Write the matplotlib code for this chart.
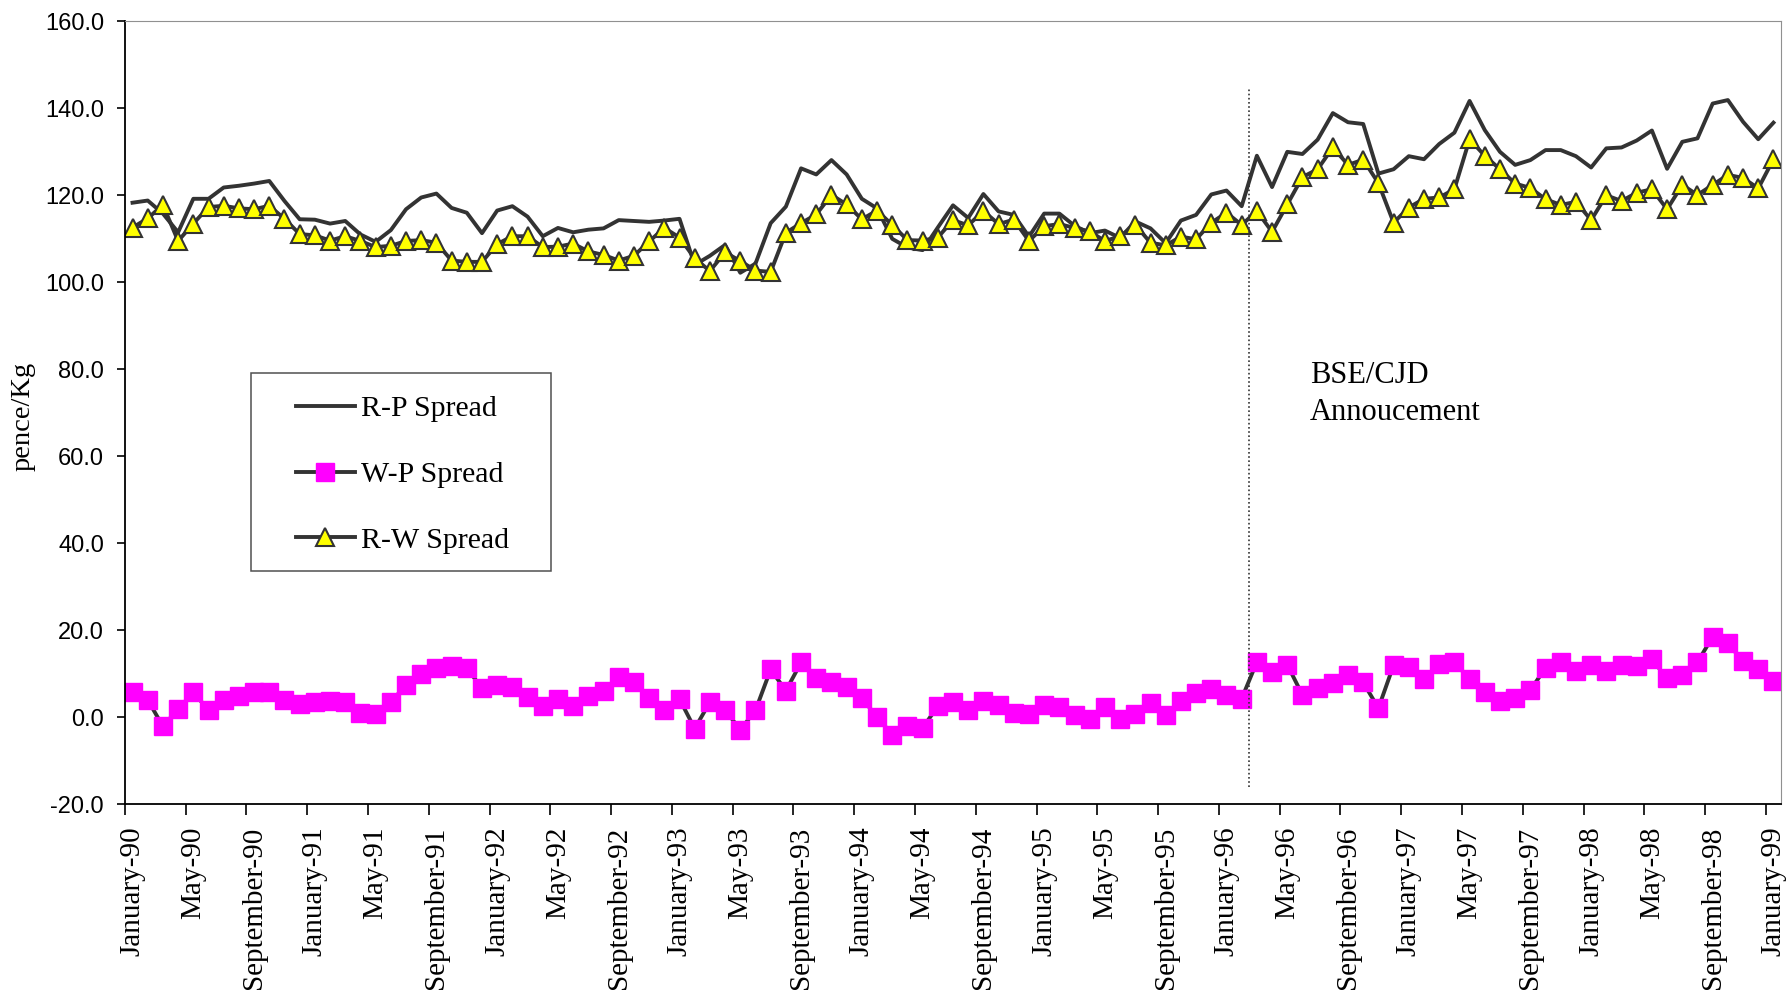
import matplotlib.pyplot as plt
import numpy as np
from matplotlib.ticker import FormatStrFormatter
from matplotlib.patches import Rectangle

# monthly spreads, pence/Kg, January 1990 - January 1999
rp_spread = [118.3, 118.8, 115.8, 111.5, 119.2, 119.2, 121.8, 122.2, 122.7, 123.3,
             118.7, 114.5, 114.4, 113.5, 114.1, 111.0, 109.3, 112.0, 116.8, 119.5,
             120.4, 117.1, 116.0, 111.3, 116.5, 117.5, 115.1, 110.6, 112.5, 111.5,
             112.1, 112.4, 114.3, 114.1, 113.9, 114.2, 114.6, 104.0, 106.1, 108.6,
             102.2, 104.3, 113.6, 117.4, 126.2, 124.8, 128.1, 124.8, 119.2, 117.0,
             110.0, 108.0, 107.4, 112.6, 117.7, 114.8, 120.3, 116.3, 115.5, 110.5,
             115.8, 115.8, 113.0, 111.3, 111.9, 110.2, 114.0, 112.4, 109.0, 114.2,
             115.5, 120.2, 121.1, 117.5, 129.1, 121.9, 130.0, 129.5, 132.8, 138.9,
             136.8, 136.4, 125.0, 126.0, 129.0, 128.3, 131.8, 134.4, 141.7, 135.0,
             130.0, 127.0, 128.1, 130.4, 130.4, 129.0, 126.4, 130.8, 131.0, 132.6,
             134.9, 126.1, 132.3, 133.1, 141.1, 141.9, 136.9, 132.9, 136.7]

wp_spread = [5.7, 4.0, -2.1, 1.9, 5.7, 1.7, 4.0, 5.0, 5.9, 5.7,
             4.0, 3.1, 3.4, 3.7, 3.4, 1.0, 0.8, 3.5, 7.4, 10.0,
             11.3, 11.9, 11.3, 6.7, 7.5, 6.9, 4.7, 2.5, 4.3, 2.6,
             5.0, 6.1, 9.3, 8.0, 4.5, 1.7, 4.2, -2.6, 3.5, 1.7,
             -2.9, 1.6, 11.0, 6.1, 12.6, 9.0, 8.0, 6.9, 4.4, 0.1,
             -4.0, -2.1, -2.4, 2.5, 3.4, 1.6, 3.8, 2.9, 1.1, 0.7,
             2.9, 2.4, 0.5, -0.5, 2.4, -0.4, 0.8, 3.3, 0.5, 3.7,
             5.6, 6.5, 5.1, 4.3, 12.7, 10.3, 12.1, 5.1, 6.7, 7.9,
             9.7, 8.0, 2.1, 12.0, 11.6, 8.8, 12.3, 12.7, 8.8, 5.7,
             3.8, 4.4, 6.3, 11.3, 12.6, 10.6, 12.0, 10.7, 12.0, 11.7,
             13.3, 9.0, 9.7, 12.7, 18.5, 17.0, 12.9, 11.1, 8.3]

rw_spread = [112.6, 114.7, 117.8, 109.5, 113.5, 117.3, 117.6, 117.0, 116.8, 117.6,
             114.6, 111.1, 110.8, 109.6, 110.6, 109.5, 108.1, 108.4, 109.5, 109.7,
             109.1, 105.0, 104.7, 104.7, 108.8, 110.6, 110.6, 108.1, 108.2, 108.9,
             107.1, 106.3, 105.0, 106.1, 109.4, 112.5, 110.3, 105.5, 102.6, 106.9,
             104.9, 102.7, 102.4, 111.4, 113.6, 115.6, 120.1, 117.9, 114.5, 116.5,
             113.2, 109.7, 109.6, 110.3, 114.3, 113.1, 116.4, 113.4, 114.4, 109.5,
             112.9, 113.4, 112.5, 111.7, 109.5, 110.6, 113.2, 109.1, 108.5, 110.5,
             109.9, 113.7, 116.0, 113.2, 116.4, 111.6, 117.9, 124.2, 126.0, 131.0,
             127.0, 128.2, 122.8, 113.7, 117.2, 119.2, 119.5, 121.4, 132.9, 129.1,
             126.0, 122.7, 121.7, 119.1, 117.8, 118.5, 114.3, 120.0, 118.7, 120.6,
             121.4, 116.8, 122.4, 120.1, 122.4, 124.7, 124.0, 121.6, 128.3]

tick_labels = ['January-90', 'May-90', 'September-90', 'January-91', 'May-91', 'September-91',
               'January-92', 'May-92', 'September-92', 'January-93', 'May-93', 'September-93',
               'January-94', 'May-94', 'September-94', 'January-95', 'May-95', 'September-95',
               'January-96', 'May-96', 'September-96', 'January-97', 'May-97', 'September-97',
               'January-98', 'May-98', 'September-98', 'January-99']

announce_month = 74  # March 1996
serif = 'Liberation Serif'
sans = 'Liberation Sans'

x = np.arange(len(rp_spread))

fig = plt.figure(figsize=(17.9, 9.97), dpi=100)
ax = fig.add_axes([0.0698, 0.1933, 0.9252, 0.7853])

ax.plot(x, rp_spread, color='#333333', lw=2.8, label='R-P Spread')
ax.plot(x, wp_spread, color='#333333', lw=2.8, marker='s', ms=13.5,
        mfc='#ff00ff', mec='#ff00ff', label='W-P Spread')
ax.plot(x, rw_spread, color='#333333', lw=2.8, marker='^', ms=13,
        mfc='#ffff00', mec='#333333', mew=1.5, label='R-W Spread')

ax.plot([announce_month - 0.5] * 2, [-16, 145], color='#333333', lw=1.2,
        ls=(0, (1, 1.5)))
ax.text(77.5, 81.8, 'BSE/CJD\nAnnoucement', family=serif, fontsize=22,
        va='top', ha='left', linespacing=1.33)

ax.set_xlim(-0.5, len(x) - 0.5)
ax.set_ylim(-20, 160)
ax.set_yticks(np.arange(-20, 161, 20))
ax.yaxis.set_major_formatter(FormatStrFormatter('%.1f'))
ax.set_xticks(np.arange(0, len(x), 4))
ax.set_xticklabels(tick_labels, rotation=90, family=serif, fontsize=21, va='top')
ax.set_xticks(np.arange(-0.5, len(x), 4), minor=True)
ax.tick_params(axis='x', which='major', length=0, pad=16)
ax.tick_params(axis='x', which='minor', length=8, width=1.2, direction='out')
ax.tick_params(axis='y', length=6, width=1.2, pad=9, labelsize=17)
for lab in ax.get_yticklabels():
    lab.set_family(sans)

ax.set_ylabel('pence/Kg', family=serif, fontsize=20.5)
ax.yaxis.set_label_coords(-0.054, 0.496)

for s in ['top', 'right']:
    ax.spines[s].set_color('#909090')
for s in ['left', 'bottom']:
    ax.spines[s].set_color('black')
    ax.spines[s].set_linewidth(1.3)

# legend box drawn separately so the entries can sit further in
ax.add_patch(Rectangle((0.076, 0.298), 0.181, 0.253, transform=ax.transAxes,
                       facecolor='white', edgecolor='#505050', lw=1.1, zorder=4))
leg = ax.legend(loc='upper left', bbox_to_anchor=(0.1035, 0.522),
                frameon=False, prop={'family': serif, 'size': 21.5},
                handlelength=1.95, handletextpad=0.2, labelspacing=1.30,
                borderpad=0, borderaxespad=0)
leg.set_zorder(5)

fig.savefig('out.png', dpi=100)
